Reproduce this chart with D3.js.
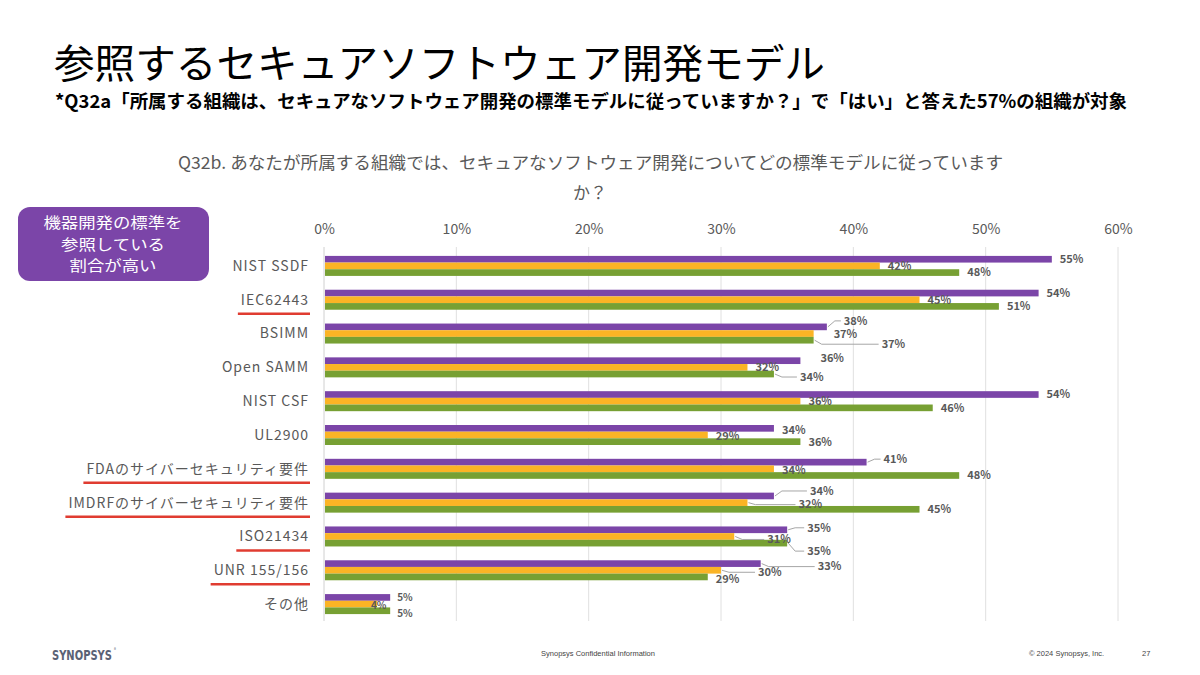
<!DOCTYPE html>
<html><head><meta charset="utf-8">
<script src="https://cdn.jsdelivr.net/npm/d3@7"></script>
<style>
html,body{margin:0;padding:0;background:#fff;}
svg{display:block;font-family:"Noto Sans CJK JP","Noto Sans",sans-serif;}
</style></head><body>
<svg id="c" width="1200" height="675"></svg>
<script>
const categories = ["NIST SSDF","IEC62443","BSIMM","Open SAMM","NIST CSF","UL2900","FDAのサイバーセキュリティ要件","IMDRFのサイバーセキュリティ要件","ISO21434","UNR 155/156","その他"];
const seriesA = [55,54,38,36,54,34,41,34,35,33,5];   // purple
const seriesB = [42,45,37,32,36,29,34,32,31,30,4];   // yellow
const seriesC = [48,51,37,34,46,36,48,45,35,29,5];   // green
const tickValues = [0,10,20,30,40,50,60];
const underlined = ["IEC62443","FDAのサイバーセキュリティ要件","IMDRFのサイバーセキュリティ要件","ISO21434","UNR 155/156"];
const boxLines = ["機器開発の標準を","参照している","割合が高い"];

// label placement tweaks (layout only): [category index, series index, dx, dy, leader]
const labelTweaks = [
  [2,0,17,-6,true],[2,1,20,1,false],[2,2,68,4,true],
  [3,0,20,-3,false],[3,2,26,3,true],
  [5,0,8,2,false],[5,1,8,1,false],
  [6,0,17,-3,true],[6,1,8,1,false],
  [7,0,36,-5,true],[7,1,51,2,true],
  [8,0,20,-2,true],[8,1,33,3,true],[8,2,20,8,true],
  [9,0,57,3,true],[9,1,37,2,true],[9,2,8,2,false],
  [10,0,7,0,false],[10,1,-6,1,false],[10,2,7,3,false]
];

const colors = ["#7B45A8","#FBB425","#77A033"];
const svg = d3.select("#c");
const grey = "#595959";

// Titles
svg.append("text").attr("x",54).attr("y",78).attr("font-size",40).attr("fill","#000")
  .attr("textLength",771).attr("lengthAdjust","spacingAndGlyphs")
  .text("参照するセキュアソフトウェア開発モデル");
svg.append("text").attr("x",55).attr("y",108).attr("font-size",18).attr("font-weight","bold").attr("fill","#000")
  .attr("textLength",1072).attr("lengthAdjust","spacingAndGlyphs")
  .text("*Q32a「所属する組織は、セキュアなソフトウェア開発の標準モデルに従っていますか？」で「はい」と答えた57%の組織が対象");
svg.append("text").attr("x",178).attr("y",169).attr("font-size",17).attr("fill",grey)
  .attr("textLength",825).attr("lengthAdjust","spacingAndGlyphs")
  .text("Q32b. あなたが所属する組織では、セキュアなソフトウェア開発についてどの標準モデルに従っています");
svg.append("text").attr("x",590).attr("y",199).attr("font-size",17).attr("fill",grey).attr("text-anchor","middle").text("か？");

// Scales
const x = d3.scaleLinear().domain([0,60]).range([324,1118]);
const y = d3.scaleBand().domain(categories).range([249,621]).paddingInner(0).paddingOuter(0);
const sub = d3.scaleBand().domain([0,1,2]).range([-10,10]);

// grid
const g = svg.append("g");
g.selectAll("line.grid").data(tickValues).join("line")
  .attr("x1",d=>x(d)).attr("x2",d=>x(d)).attr("y1",247).attr("y2",621)
  .attr("stroke",d=>d===0?"#D0D0D0":"#E0E0E0").attr("stroke-width",1);

// top axis
const ax = svg.append("g").attr("transform","translate(0,234)")
  .call(d3.axisTop(x).tickValues(tickValues).tickFormat(d=>d+"%").tickSize(0).tickPadding(0));
ax.select(".domain").remove();
ax.selectAll("text").attr("font-size",14).attr("fill",grey).attr("font-family","\"Noto Sans CJK JP\",sans-serif");

// bars
const series = [seriesA,seriesB,seriesC];
const rows = [];
categories.forEach((c,i)=>series.forEach((s,k)=>rows.push({c,i,k,v:s[i]})));
g.selectAll("rect.bar").data(rows).join("rect")
  .attr("x",x(0)+1).attr("y",d=>y(d.c)+y.bandwidth()/2+sub(d.k))
  .attr("width",d=>x(d.v)-x(0)-1).attr("height",sub.bandwidth())
  .attr("fill",d=>colors[d.k]);

// labels
const tweak = {};
labelTweaks.forEach(t=>tweak[t[0]+"-"+t[1]]={dx:t[2],dy:t[3],leader:t[4]});
rows.forEach(d=>{
  const cy = y(d.c)+y.bandwidth()/2+sub(d.k)+sub.bandwidth()/2;
  const t = tweak[d.i+"-"+d.k] || {dx:8,dy:0,leader:false};
  const lx = x(d.v)+t.dx, ly = cy+t.dy;
  if(t.leader){
    g.append("path").attr("d",`M${x(d.v)+1},${cy} L${Math.min(x(d.v)+8,lx-4)},${ly} L${lx-3},${ly}`)
      .attr("fill","none").attr("stroke","#A6A6A6").attr("stroke-width",1);
  }
  g.append("text").attr("x",lx).attr("y",ly).attr("dy","0.35em")
    .attr("font-size",d.i===10?10:11).attr("font-weight","bold").attr("fill",grey).text(d.v+"%");
});

// category labels
svg.append("g").selectAll("text").data(categories).join("text")
  .attr("x",309).attr("y",d=>y(d)+y.bandwidth()/2).attr("dy","0.35em")
  .attr("text-anchor","end").attr("font-size",14).attr("letter-spacing",1).attr("fill",grey).text(d=>d)
  .each(function(d){
    if(underlined.includes(d)){
      const w = this.getComputedTextLength();
      svg.append("line").attr("x1",309-w-3).attr("x2",310).attr("y1",y(d)+y.bandwidth()/2+14).attr("y2",y(d)+y.bandwidth()/2+14)
        .attr("stroke","#E03C31").attr("stroke-width",2.5);
    }
  });

// purple note box
svg.append("rect").attr("x",18).attr("y",207).attr("width",191).attr("height",74).attr("rx",12)
  .attr("fill","#7B45A8");
const boxW = [139,104,87];
svg.append("g").selectAll("text").data(boxLines).join("text")
  .attr("x",113).attr("y",(d,i)=>228+i*21.5).attr("text-anchor","middle")
  .attr("font-size",14.5).attr("textLength",(d,i)=>boxW[i]).attr("lengthAdjust","spacingAndGlyphs")
  .attr("fill","#fff").text(d=>d);

// footer
svg.append("text").attr("x",52).attr("y",660).attr("font-size",14).attr("font-weight","bold")
  .attr("fill","#5A6275").attr("font-family","\"Liberation Sans Narrow\",\"DejaVu Sans Condensed\",sans-serif")
  .attr("textLength",60).attr("lengthAdjust","spacingAndGlyphs").text("SYNOPSYS");
svg.append("text").attr("x",114).attr("y",651).attr("font-size",4).attr("fill","#5A6275").text("®");
svg.append("text").attr("x",598).attr("y",656).attr("text-anchor","middle").attr("font-size",7.5).attr("fill","#444")
  .attr("font-family","\"Liberation Sans\",sans-serif").text("Synopsys Confidential Information");
svg.append("text").attr("x",1029).attr("y",656).attr("font-size",7.5).attr("fill","#444")
  .attr("font-family","\"Liberation Sans\",sans-serif").text("© 2024 Synopsys, Inc.");
svg.append("text").attr("x",1142).attr("y",656).attr("font-size",7.5).attr("fill","#444")
  .attr("font-family","\"Liberation Sans\",sans-serif").text("27");
</script>
</body></html>
